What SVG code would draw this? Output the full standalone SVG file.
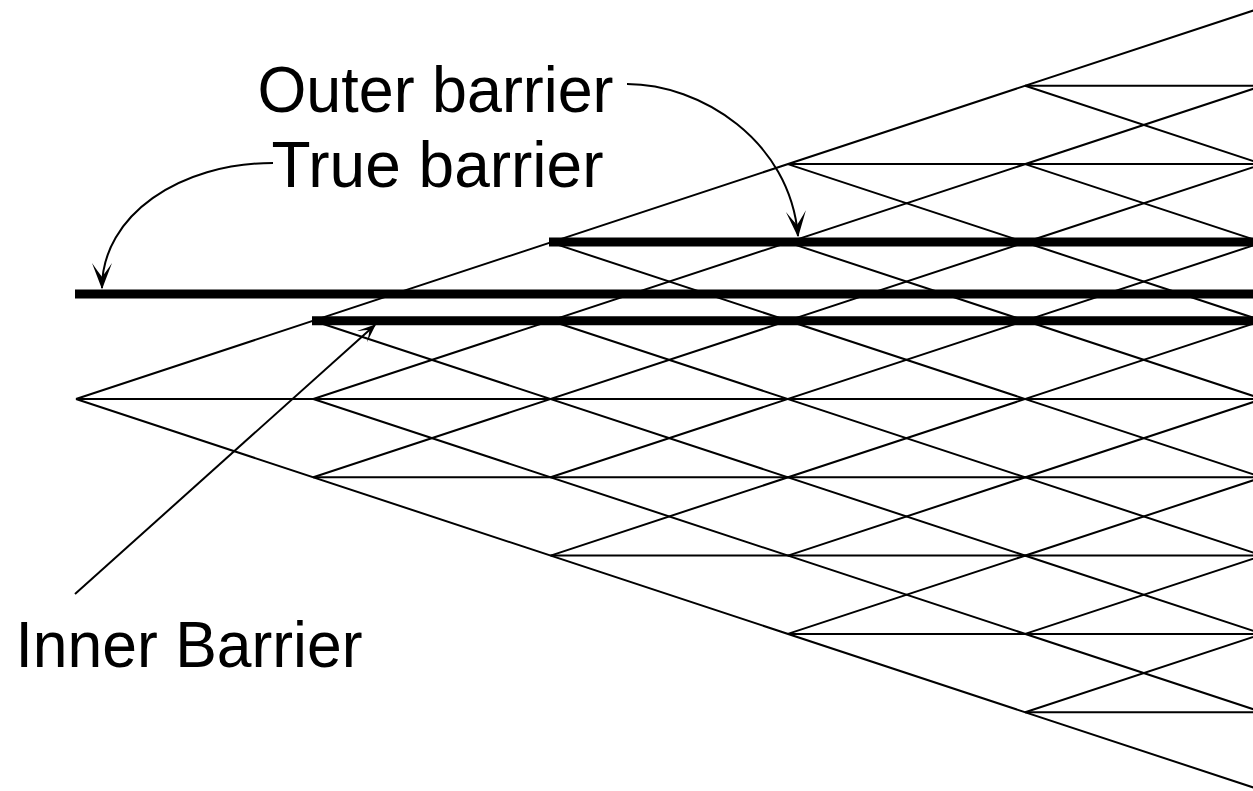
<svg xmlns="http://www.w3.org/2000/svg" width="1253" height="791" viewBox="0 0 1253 791">
<style>
.thin{stroke:#000;stroke-width:2;fill:none}
.bar{stroke:#000;stroke-width:9;fill:none}
.lbl{font-family:"Liberation Sans",Arial,sans-serif;font-size:64px;fill:#000}
.conn{stroke:#000;stroke-width:2;fill:none}
</style>
<defs>
<marker id="ah" markerUnits="userSpaceOnUse" markerWidth="30" markerHeight="30" refX="0" refY="0" viewBox="-22 -11 24 22" orient="auto" overflow="visible">
<path d="M1,0 L-20,-8 Q-12,-2.5 -9,0 Q-12,2.5 -20,8 Z" fill="#000"/>
</marker>
<marker id="ahs" markerUnits="userSpaceOnUse" markerWidth="30" markerHeight="30" refX="0" refY="0" viewBox="-22 -11 24 22" orient="auto" overflow="visible">
<path d="M1,0 L-14,-6 Q-8,-2 -6,0 Q-8,2 -14,6 Z" fill="#000"/>
</marker>
</defs>
<rect width="1253" height="791" fill="#fff"/>
<g id="lattice" class="thin">
<path d="M76,399 H1300 M313.3,320.7 H1300 M313.3,477.3 H1300 M550.6,242.4 H1300 M550.6,555.6 H1300 M787.9,164.1 H1300 M787.9,633.9 H1300 M1025.2,85.8 H1300 M1025.2,712.2 H1300"/>
<path d="M76,399 L1300,802.9 M313.3,320.7 L1300,646.3 M313.3,399 L1300,724.6 M550.6,242.4 L1300,489.7 M550.6,320.7 L1300,568 M787.9,164.1 L1300,333.1 M787.9,242.4 L1300,411.4 M1025.2,85.8 L1300,176.5 M1025.2,164.1 L1300,254.8"/>
<path d="M76,399 L1300,-4.9 M313.3,477.3 L1300,151.7 M313.3,399 L1300,73.4 M550.6,555.6 L1300,308.3 M550.6,477.3 L1300,230 M787.9,633.9 L1300,464.9 M787.9,555.6 L1300,386.6 M1025.2,712.2 L1300,621.5 M1025.2,633.9 L1300,543.2"/>
</g>
<g id="outer-barrier"><line class="bar" x1="549" y1="242" x2="1300" y2="242"/></g>
<g id="true-barrier"><line class="bar" x1="75" y1="294" x2="1300" y2="294"/></g>
<g id="inner-barrier"><line class="bar" x1="312" y1="320.7" x2="1300" y2="320.7"/></g>
<g id="label-outer"><text class="lbl" x="257.5" y="111.5" textLength="356" lengthAdjust="spacingAndGlyphs">Outer barrier</text></g>
<g id="label-true"><text class="lbl" x="271.5" y="186.5" textLength="332" lengthAdjust="spacingAndGlyphs">True barrier</text></g>
<g id="label-inner"><text class="lbl" x="15.5" y="667" textLength="347" lengthAdjust="spacingAndGlyphs">Inner Barrier</text></g>
<g id="connectors">
<path class="conn" marker-end="url(#ah)" d="M627,84 C700,84 790,140 798,236"/>
<path class="conn" marker-end="url(#ah)" d="M273,163 C180,163 102,215 102,288"/>
<path class="conn" marker-end="url(#ahs)" d="M75,594 L375,325"/>
</g>
</svg>
